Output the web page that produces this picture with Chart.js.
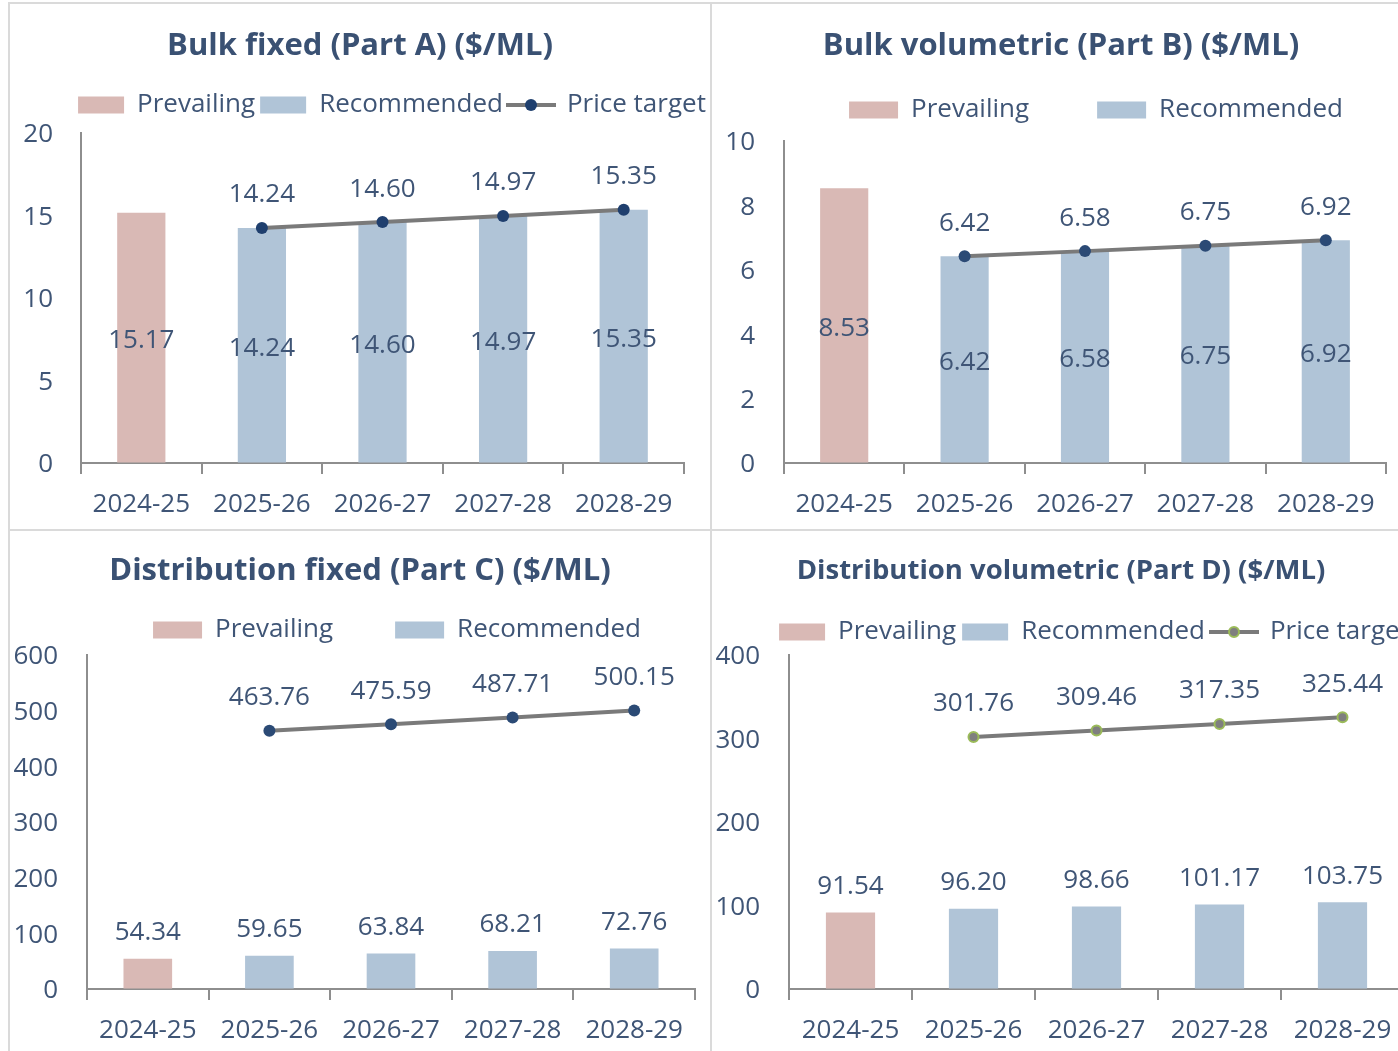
<!DOCTYPE html>
<html>
<head>
<meta charset="utf-8">
<script src="https://cdn.jsdelivr.net/npm/chart.js@4.4.1/dist/chart.umd.min.js"></script>
<style>
  html, body { margin: 0; padding: 0; background: #fff; overflow: hidden; }
  body { width: 1398px; height: 1051px; position: relative; }
  canvas { position: absolute; }
  .rule { position: absolute; background: #dadada; }
</style>
</head>
<body>
<div class="rule" style="left:8px;top:2px;width:1390px;height:2px"></div>
<div class="rule" style="left:8px;top:2px;width:2px;height:1049px"></div>
<div class="rule" style="left:710px;top:2px;width:2px;height:1049px"></div>
<div class="rule" style="left:8px;top:529px;width:1390px;height:2px"></div>

<canvas id="partA" width="700" height="526" style="left:10px;top:4px"></canvas>
<canvas id="partB" width="700" height="526" style="left:712px;top:4px"></canvas>
<canvas id="partC" width="700" height="520" style="left:10px;top:531px"></canvas>
<canvas id="partD" width="700" height="520" style="left:712px;top:531px"></canvas>

<script>
// Categorías (años)
const categories = ['2024-25', '2025-26', '2026-27', '2027-28', '2028-29'];

// Part A - Bulk fixed
const partAPrevailing   = [15.17, null, null, null, null];
const partARecommended  = [null, 14.24, 14.60, 14.97, 15.35];
const partATarget       = [null, 14.24, 14.60, 14.97, 15.35];

// Part B - Bulk volumetric
const partBPrevailing   = [8.53, null, null, null, null];
const partBRecommended  = [null, 6.42, 6.58, 6.75, 6.92];
const partBTarget       = [null, 6.42, 6.58, 6.75, 6.92];

// Part C - Distribution fixed
const partCPrevailing   = [54.34, null, null, null, null];
const partCRecommended  = [null, 59.65, 63.84, 68.21, 72.76];
const partCTarget       = [null, 463.76, 475.59, 487.71, 500.15];

// Part D - Distribution volumetric
const partDPrevailing   = [91.54, null, null, null, null];
const partDRecommended  = [null, 96.20, 98.66, 101.17, 103.75];
const partDTarget       = [null, 301.76, 309.46, 317.35, 325.44];

// Ejes
const partATicks = { max: 20, step: 5 };
const partBTicks = { max: 10, step: 2 };
const partCTicks = { max: 600, step: 100 };
const partDTicks = { max: 400, step: 100 };

// Colores
const textColor = '#3f5576';
const titleColor = '#3a5173';
const axisColor = '#8e8e8e';
const prevailingColor = '#d9b9b5';
const recommendedColor = '#b0c4d7';
const lineColor = '#7a7a7a';

// Open Sans con baseline "middle" queda un poco alto
const textNudge = 3;

Chart.defaults.font.family = '"Open Sans", sans-serif';
Chart.defaults.color = textColor;

// Icono de leyenda: línea con marcador
function lineIcon(fill, stroke) {
    const c = document.createElement('canvas');
    c.width = 50;
    c.height = 16;
    const x = c.getContext('2d');
    x.strokeStyle = lineColor;
    x.lineWidth = 4;
    x.beginPath();
    x.moveTo(0, 8);
    x.lineTo(50, 8);
    x.stroke();
    x.beginPath();
    x.arc(25, 8, stroke ? 5 : 6, 0, Math.PI * 2);
    x.fillStyle = fill;
    x.fill();
    if (stroke) {
        x.lineWidth = 2;
        x.strokeStyle = stroke;
        x.stroke();
    }
    return c;
}

// Etiquetas de valores
const valueLabels = {
    id: 'valueLabels',
    afterDatasetsDraw(chart) {
        const ctx = chart.ctx;
        ctx.save();
        ctx.font = '26px "Open Sans", sans-serif';
        ctx.fillStyle = textColor;
        ctx.textAlign = 'center';
        ctx.textBaseline = 'middle';
        chart.data.datasets.forEach((ds, i) => {
            const meta = chart.getDatasetMeta(i);
            meta.data.forEach((el, j) => {
                const v = ds.data[j];
                if (v == null) return;
                const y = ds.labelAt === 'middle' ? (el.y + el.base) / 2 : el.y - ds.labelGap;
                ctx.fillText(v.toFixed(2), el.x, y + textNudge);
            });
        });
        ctx.restore();
    }
};

// Coloca título y leyenda donde están en la imagen
function placement(g) {
    return {
        id: 'placement',
        afterLayout(chart) {
            const t = chart.titleBlock;
            const tw = t.right - t.left;
            const th = t.bottom - t.top;
            t.top = g.titleY - g.top - g.titleSize * 0.6 + 2;
            t.bottom = t.top + th;
            t.left = g.titleX - g.left - tw / 2;
            t.right = t.left + tw;

            const l = chart.legend;
            l.top = g.legendY - g.top - g.legendGap - 13 + 2;
            l.bottom = l.top + g.legendGap + 40;
            const dx = (g.legendX - g.left) - (l.left + l.right) / 2;
            l.left += dx;
            l.right += dx;
        }
    };
}

function makeChart(id, g, title, prevailing, recommended, target, ticks, opts) {
    const padR = g.left + g.width - g.plotRight;
    const datasets = [
        {
            type: 'line', label: 'Price target', data: target, order: 0,
            borderColor: lineColor, borderWidth: 4, backgroundColor: lineColor,
            pointRadius: opts.dotStroke ? 5 : 6, pointHoverRadius: 6,
            pointBackgroundColor: opts.dotFill,
            pointBorderColor: opts.dotStroke || opts.dotFill,
            pointBorderWidth: opts.dotStroke ? 2 : 0,
            labelAt: 'above', labelGap: 36
        },
        {
            type: 'bar', label: 'Prevailing', data: prevailing, order: 1,
            backgroundColor: prevailingColor, borderWidth: 0, grouped: false,
            barPercentage: 0.4, categoryPercentage: 1,
            labelAt: opts.barLabel, labelGap: 29
        },
        {
            type: 'bar', label: 'Recommended', data: recommended, order: 1,
            backgroundColor: recommendedColor, borderWidth: 0, grouped: false,
            barPercentage: 0.4, categoryPercentage: 1,
            labelAt: opts.barLabel, labelGap: 29
        }
    ];
    const icon = lineIcon(opts.dotFill, opts.dotStroke);
    const legendOrder = ['Prevailing', 'Recommended', 'Price target'];
    const titleLine = g.titleSize * 1.2;

    return new Chart(document.getElementById(id), {
        type: 'bar',
        data: { labels: categories, datasets: datasets },
        options: {
            responsive: false,
            animation: false,
            devicePixelRatio: 1,
            events: [],
            layout: { padding: 0 },
            plugins: {
                tooltip: { enabled: false },
                title: {
                    display: true,
                    text: title,
                    color: titleColor,
                    font: { size: g.titleSize, weight: 'bold', lineHeight: 1.2 },
                    padding: { top: 0, bottom: g.plotTop - g.top - titleLine - 36 }
                },
                legend: {
                    maxHeight: 36,
                    labels: {
                        usePointStyle: true,
                        pointStyleWidth: g.legendBox,
                        boxHeight: 17,
                        padding: g.legendGap,
                        color: textColor,
                        font: { size: 26 },
                        filter: item => opts.showTarget || item.text !== 'Price target',
                        sort: (a, b) => legendOrder.indexOf(a.text) - legendOrder.indexOf(b.text),
                        generateLabels(chart) {
                            const items = Chart.defaults.plugins.legend.labels.generateLabels(chart);
                            items.forEach(it => {
                                it.pointStyle = it.text === 'Price target' ? icon : 'rect';
                                it.lineWidth = 0;
                            });
                            return items;
                        }
                    }
                }
            },
            scales: {
                x: {
                    grid: {
                        offset: true, drawOnChartArea: false, drawTicks: true,
                        tickLength: 11, color: axisColor, lineWidth: 2
                    },
                    border: { display: true, color: axisColor, width: 2 },
                    ticks: { font: { size: 26 }, color: textColor, padding: 15, maxRotation: 0, autoSkip: false },
                    afterFit(s) { s.height = g.top + g.height - g.plotBottom; }
                },
                y: {
                    min: 0, max: ticks.max,
                    grid: { drawOnChartArea: false, drawTicks: false },
                    border: { display: true, color: axisColor, width: 2 },
                    ticks: { stepSize: ticks.step, font: { size: 26 }, color: textColor, padding: g.yPad, labelOffset: 2 },
                    afterFit(s) { s.width = g.plotLeft - g.left; }
                },
                spacer: {
                    position: 'right',
                    grid: { display: false, drawTicks: false },
                    border: { display: false },
                    ticks: { display: false },
                    afterFit(s) { s.width = padR; }
                }
            }
        },
        plugins: [valueLabels, placement(g)]
    });
}

makeChart('partA',
    { left: 10, top: 4, width: 700, height: 526, plotLeft: 81, plotRight: 684, plotTop: 133, plotBottom: 463,
      titleX: 360, titleY: 44, titleSize: 31, legendX: 392, legendY: 103, legendGap: 5, legendBox: 46, yPad: 28 },
    'Bulk fixed (Part A) ($/ML)', partAPrevailing, partARecommended, partATarget, partATicks,
    { dotFill: '#1f3f6e', barLabel: 'middle', showTarget: true });

makeChart('partB',
    { left: 712, top: 4, width: 700, height: 526, plotLeft: 784, plotRight: 1386, plotTop: 141, plotBottom: 463,
      titleX: 1061, titleY: 44, titleSize: 31, legendX: 1096, legendY: 108, legendGap: 68, legendBox: 49, yPad: 29 },
    'Bulk volumetric (Part B) ($/ML)', partBPrevailing, partBRecommended, partBTarget, partBTicks,
    { dotFill: '#2b4a75', barLabel: 'middle', showTarget: false });

makeChart('partC',
    { left: 10, top: 531, width: 700, height: 520, plotLeft: 87, plotRight: 695, plotTop: 655, plotBottom: 989,
      titleX: 360, titleY: 569, titleSize: 31, legendX: 397, legendY: 628, legendGap: 62, legendBox: 49, yPad: 29 },
    'Distribution fixed (Part C) ($/ML)', partCPrevailing, partCRecommended, partCTarget, partCTicks,
    { dotFill: '#2b4a75', barLabel: 'above', showTarget: false });

makeChart('partD',
    { left: 712, top: 531, width: 700, height: 520, plotLeft: 789, plotRight: 1407, plotTop: 655, plotBottom: 989,
      titleX: 1061, titleY: 569, titleSize: 27.5, legendX: 1094, legendY: 630, legendGap: 6, legendBox: 46, yPad: 29 },
    'Distribution volumetric (Part D) ($/ML)', partDPrevailing, partDRecommended, partDTarget, partDTicks,
    { dotFill: '#7f7f7f', dotStroke: '#9bbb59', barLabel: 'above', showTarget: true });
</script>
</body>
</html>
